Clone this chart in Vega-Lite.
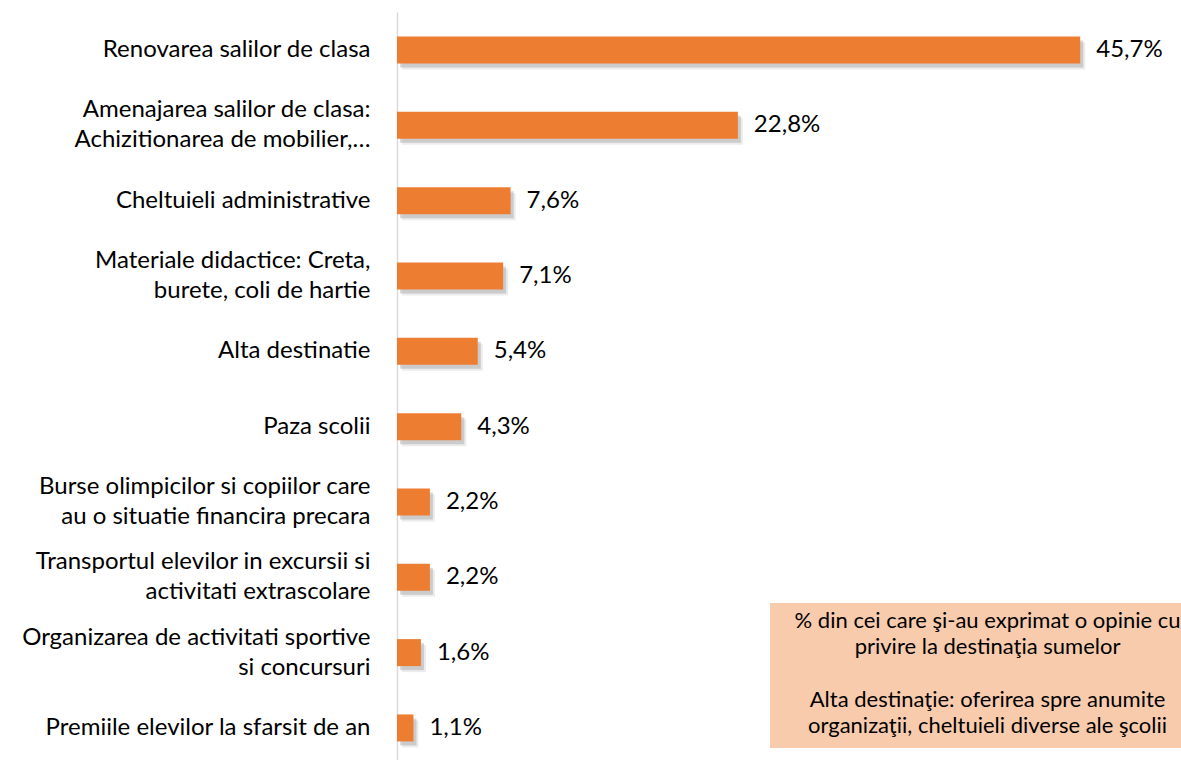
{
  "$schema": "https://vega.github.io/schema/vega-lite/v6.json",
  "autosize": "none",
  "width": 784,
  "height": 748,
  "padding": {"left": 397, "top": 12, "right": 0, "bottom": 0},
  "background": "white",
  "config": {"view": {"stroke": null}, "font": "Lato"},
  "datasets": {
    "bars": [
      {"cat": "Renovarea salilor de clasa", "v": 45.7, "lbl": "45,7%"},
      {"cat": "Amenajarea salilor de clasa:|Achizitionarea de mobilier,…", "v": 22.8, "lbl": "22,8%"},
      {"cat": "Cheltuieli administrative", "v": 7.6, "lbl": "7,6%"},
      {"cat": "Materiale didactice: Creta,|burete, coli de hartie", "v": 7.1, "lbl": "7,1%"},
      {"cat": "Alta destinatie", "v": 5.4, "lbl": "5,4%"},
      {"cat": "Paza scolii", "v": 4.3, "lbl": "4,3%"},
      {"cat": "Burse olimpicilor si copiilor care|au o situatie financira precara", "v": 2.2, "lbl": "2,2%"},
      {"cat": "Transportul elevilor in excursii si|activitati extrascolare", "v": 2.2, "lbl": "2,2%"},
      {"cat": "Organizarea de activitati sportive|si concursuri", "v": 1.6, "lbl": "1,6%"},
      {"cat": "Premiile elevilor la sfarsit de an", "v": 1.1, "lbl": "1,1%"}
    ],
    "box": [
      {"x1": 24.95, "x2": 52.44, "y1": 7.845, "y2": 9.77}
    ],
    "note": [
      {"xm": 39.5, "ym": 8.084, "t": "% din cei care şi-au exprimat o opinie cu\nprivire la destinaţia sumelor"},
      {"xm": 39.5, "ym": 9.133, "t": "Alta destinaţie: oferirea spre anumite\norganizaţii, cheltuieli diverse ale şcolii"}
    ]
  },
  "layer": [
    {
      "data": {"name": "bars"},
      "encoding": {
        "y": {
          "field": "cat", "type": "nominal", "sort": null,
          "scale": {"paddingInner": 0.6416, "paddingOuter": 0.286, "align": 0.569},
          "axis": {
            "title": null, "ticks": false, "tickSize": 0, "labelPadding": 27,
            "labelExpr": "split(datum.value, '|')",
            "labelOffset": {"condition": {"test": "indexof(datum.value, '|') >= 0", "value": -15}, "value": 0},
            "labelFont": "Lato", "labelFontSize": 24, "labelColor": "#000000",
            "labelLimit": 500, "labelLineHeight": 30, "labelAlign": "right", "labelBaseline": "middle",
            "domainColor": "#D9D9D9", "domainWidth": 1.5
          }
        },
        "x": {
          "field": "v", "type": "quantitative",
          "scale": {"domain": [0, 52.44], "nice": false, "zero": true},
          "axis": null
        }
      },
      "layer": [
        {"mark": {"type": "bar", "color": "#7f7f7f", "opacity": 0.15, "xOffset": 5, "yOffset": 6}},
        {"mark": {"type": "bar", "color": "#7f7f7f", "opacity": 0.3, "xOffset": 3, "yOffset": 4}},
        {"mark": {"type": "bar", "color": "#ED7D31"}},
        {
          "mark": {"type": "text", "align": "left", "baseline": "middle", "dx": 16, "font": "Lato", "fontSize": 24, "color": "#000000"},
          "encoding": {"text": {"field": "lbl"}}
        }
      ]
    },
    {
      "data": {"name": "box"},
      "mark": {"type": "rect", "color": "#F8CBAD"},
      "encoding": {
        "x": {"field": "x1", "type": "quantitative"},
        "x2": {"field": "x2"},
        "y": {"field": "y1", "type": "quantitative", "scale": {"domain": [0, 9.93], "reverse": true, "nice": false, "zero": false}, "axis": null},
        "y2": {"field": "y2"}
      }
    },
    {
      "data": {"name": "note"},
      "mark": {"type": "text", "align": "center", "baseline": "middle", "lineBreak": "\n", "lineHeight": 26.5, "font": "Lato", "fontSize": 22, "color": "#000000"},
      "encoding": {
        "x": {"field": "xm", "type": "quantitative"},
        "y": {"field": "ym", "type": "quantitative", "scale": {"domain": [0, 9.93], "reverse": true, "nice": false, "zero": false}, "axis": null},
        "text": {"field": "t"}
      }
    }
  ],
  "resolve": {"scale": {"y": "independent"}}
}
